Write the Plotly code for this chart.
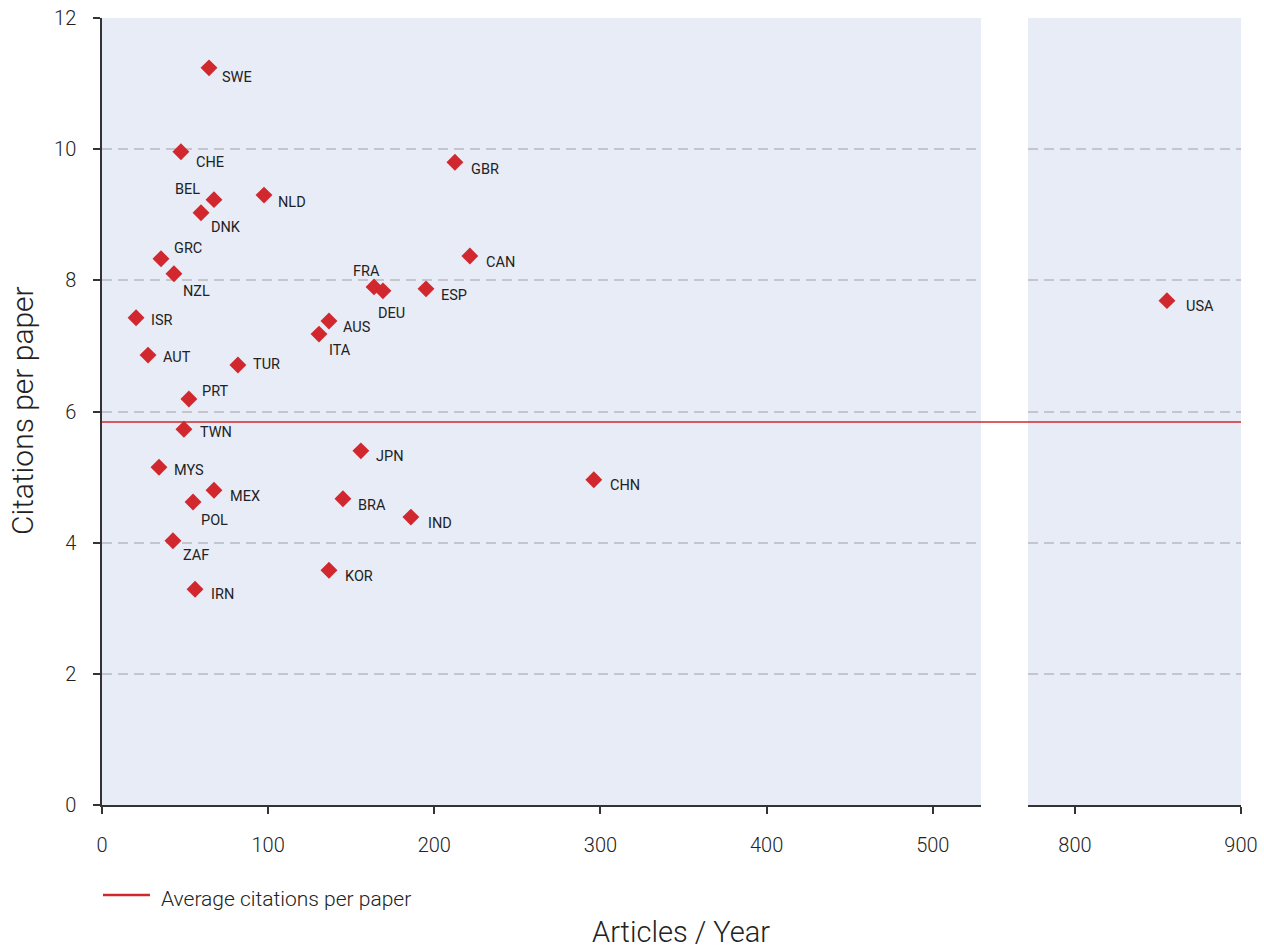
import plotly.graph_objects as go

countries = ["SWE", "CHE", "BEL", "DNK", "NLD", "GBR", "GRC", "NZL", "CAN", "FRA",
             "DEU", "ESP", "ISR", "AUS", "ITA", "AUT", "TUR", "PRT", "TWN", "JPN",
             "MYS", "MEX", "POL", "BRA", "IND", "CHN", "ZAF", "KOR", "IRN", "USA"]
articles = [64.4, 47.5, 67.4, 59.6, 97.5, 212.4, 35.5, 43.3, 221.4, 163.7,
            169.1, 195.0, 20.5, 136.6, 130.6, 27.7, 81.8, 52.3, 49.3, 155.8,
            34.3, 67.4, 54.8, 145.0, 185.9, 296.0, 42.7, 136.6, 56.0, 855.4]
citations = [11.24, 9.96, 9.23, 9.03, 9.30, 9.80, 8.33, 8.10, 8.37, 7.90,
             7.84, 7.87, 7.43, 7.38, 7.18, 6.86, 6.71, 6.19, 5.73, 5.40,
             5.15, 4.80, 4.62, 4.67, 4.39, 4.96, 4.03, 3.58, 3.29, 7.69]
average_citations = 5.84

left_range = [0, 529]
right_range = [771.7, 900]
left_ticks = [0, 100, 200, 300, 400, 500]
right_ticks = [800, 900]
y_ticks = [0, 2, 4, 6, 8, 10, 12]

legend_label = "Average citations per paper"
x_title = "Articles / Year"
y_title = "Citations per paper"

# label placement (style): (dx px, dy px downward, xanchor)
label_style = {
    "SWE": (11, 10, "left"), "CHE": (13, 11, "left"), "BEL": (-12, -10, "right"),
    "DNK": (8, 15, "left"), "NLD": (12, 7, "left"), "GBR": (14, 7, "left"),
    "GRC": (11, -10, "left"), "NZL": (7, 18, "left"), "CAN": (14, 6, "left"),
    "FRA": (-8, -15, "center"), "DEU": (9, 23, "center"), "ESP": (13, 7, "left"),
    "ISR": (13, 3, "left"), "AUS": (12, 6, "left"), "ITA": (8, 16, "left"),
    "AUT": (13, 2, "left"), "TUR": (13, 0, "left"), "PRT": (11, -8, "left"),
    "TWN": (14, 3, "left"), "JPN": (13, 6, "left"), "MYS": (13, 3, "left"),
    "MEX": (14, 6, "left"), "POL": (6, 18, "left"), "BRA": (13, 7, "left"),
    "IND": (15, 6, "left"), "CHN": (14, 6, "left"), "ZAF": (8, 15, "left"),
    "KOR": (14, 6, "left"), "IRN": (14, 5, "left"), "USA": (17, 6, "left"),
}

RED = "#d0282e"
BG = "#e8ecf6"
GRID = "#c4c6cc"
AXIS = "#333333"
TXT = "#222222"
FONT = "Roboto"

W, H = 1264, 949
ML, MR, MT, MB = 102, 23, 18, 144
PW, PH = W - ML - MR, H - MT - MB


def px_to_paper(px, py):
    return (px - ML) / PW, (H - MB - py) / PH


fig = go.Figure()

left_idx = [i for i, a in enumerate(articles) if a <= left_range[1]]
right_idx = [i for i, a in enumerate(articles) if a > left_range[1]]

for idx, xa in ((left_idx, "x"), (right_idx, "x2")):
    fig.add_trace(go.Scatter(
        x=[articles[i] for i in idx], y=[citations[i] for i in idx],
        mode="markers", marker=dict(symbol="diamond", size=13, color=RED),
        xaxis=xa, yaxis="y", showlegend=False, hoverinfo="skip"))

# average line across both panels
fig.add_shape(type="line", xref="paper", yref="y", x0=0, x1=1,
              y0=average_citations, y1=average_citations,
              line=dict(color=RED, width=1.5), layer="above")

for i, c in enumerate(countries):
    dx, dy, anc = label_style[c]
    fig.add_annotation(
        x=articles[i], y=citations[i],
        xref="x2" if i in right_idx else "x", yref="y",
        text=c, showarrow=False, xanchor=anc, yanchor="middle",
        xshift=dx, yshift=-dy,
        font=dict(family=FONT, size=14.5, color=TXT))

# custom legend (line sample + text)
lx0, ly = px_to_paper(103, 895)
lx1, _ = px_to_paper(150, 895)
fig.add_shape(type="line", xref="paper", yref="paper", x0=lx0, x1=lx1, y0=ly, y1=ly,
              line=dict(color=RED, width=2.7))
tx, ty = px_to_paper(159, 899)
fig.add_annotation(x=tx, y=ty, xref="paper", yref="paper", text=legend_label,
                   showarrow=False, xanchor="left", yanchor="middle",
                   font=dict(family=FONT, size=21, color=TXT, weight=300))

# axis titles
ax_, ay_ = px_to_paper(681, 932)
fig.add_annotation(x=ax_, y=ay_, xref="paper", yref="paper", text=x_title,
                   showarrow=False, xanchor="center", yanchor="middle",
                   font=dict(family=FONT, size=29, color=TXT, weight=300))
yx_, yy_ = px_to_paper(22, 411)
fig.add_annotation(x=yx_, y=yy_, xref="paper", yref="paper", text=y_title,
                   showarrow=False, xanchor="center", yanchor="middle", textangle=-90,
                   font=dict(family=FONT, size=30, color=TXT, weight=300))

tickfont = dict(family=FONT, size=20, color=TXT, weight=300)
xcommon = dict(showgrid=False, zeroline=False, showline=True, linecolor=AXIS,
               linewidth=1.5, ticks="outside", ticklen=7, tickcolor=AXIS,
               tickwidth=1.5, tickfont=tickfont, ticklabelstandoff=14,
               anchor="y", automargin=False)

fig.update_layout(
    width=W, height=H,
    margin=dict(l=ML, r=MR, t=MT, b=MB, autoexpand=False),
    paper_bgcolor="white", plot_bgcolor=BG,
    font=dict(family=FONT, color=TXT),
    showlegend=False,
    xaxis=dict(domain=[0, 0.7717], range=left_range, tickvals=left_ticks, **xcommon),
    xaxis2=dict(domain=[0.8130, 1], range=right_range, tickvals=right_ticks, **xcommon),
    yaxis=dict(range=[0, 12], tickvals=y_ticks, showgrid=True, gridcolor=GRID,
               griddash="10px,6px", gridwidth=1.5, zeroline=False, showline=True,
               linecolor=AXIS, linewidth=1.5, ticks="outside", ticklen=7,
               tickcolor=AXIS, tickwidth=1.5, tickfont=tickfont,
               ticklabelstandoff=13, automargin=False),
)

fig.write_html("out.html",
               config={"displayModeBar": False},
               post_script="document.body.style.margin='0px';"
                           "document.body.style.overflow='hidden';")
